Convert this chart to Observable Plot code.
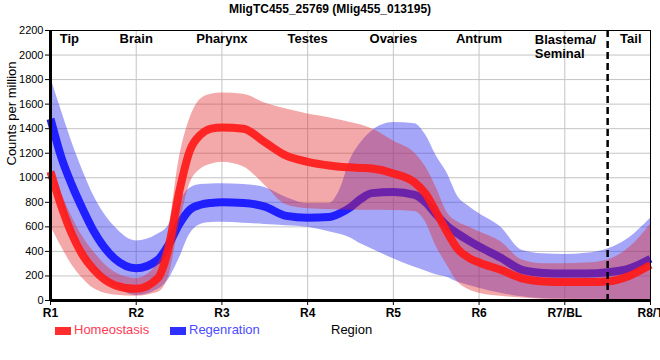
<!DOCTYPE html>
<html><head><meta charset="utf-8">
<script src="https://cdn.jsdelivr.net/npm/d3@7"></script>
<script src="https://cdn.jsdelivr.net/npm/@observablehq/plot@0.6"></script>
<style>
body{margin:0;background:#fff;font-family:"Liberation Sans",Arial,sans-serif;}
#wrap{position:relative;width:660px;height:360px;overflow:hidden;}
#title{position:absolute;top:1px;left:0;width:660px;text-align:center;font-weight:bold;font-size:12px;line-height:16px;color:#000}
#chart{position:absolute;top:22px;left:0}
.lg{position:absolute;top:322px;font-size:13px;line-height:16px;white-space:nowrap}
.sw{position:absolute;top:327px;width:16px;height:8px}
</style></head>
<body><div id="wrap">
<div id="title">MligTC455_25769 (Mlig455_013195)</div>
<div id="chart"></div>
<div class="sw" style="left:55px;background:#ff2d2d"></div>
<div class="lg" style="left:74px;color:#ff3a55">Homeostasis</div>
<div class="sw" style="left:170px;background:#2f2fff"></div>
<div class="lg" style="left:189px;color:#4b4bff">Regenration</div>
<div class="lg" style="left:331px;color:#000">Region</div>
</div>
<script>
const xs = [1, 1.125, 1.25, 1.375, 1.5, 1.75, 2, 2.25, 2.375, 2.5, 2.625, 2.75, 2.875, 3, 3.25, 3.5, 3.75, 4, 4.25, 4.375, 4.5, 4.625, 4.75, 5, 5.25, 5.375, 5.5, 5.625, 5.75, 5.875, 6, 6.25, 6.5, 6.75, 7, 7.25, 7.5, 7.75, 8];
const homeMean  = [1050, 770, 540, 370, 255, 125, 95, 180, 420, 880, 1220, 1350, 1400, 1410, 1400, 1290, 1180, 1130, 1100, 1090, 1085, 1080, 1075, 1035, 960, 870, 720, 560, 420, 350, 310, 250, 180, 155, 150, 150, 155, 200, 290];
const homeUpper = [1100, 880, 680, 520, 400, 230, 180, 300, 560, 1150, 1480, 1640, 1680, 1690, 1680, 1610, 1560, 1520, 1490, 1470, 1450, 1430, 1400, 1300, 1200, 1090, 920, 720, 640, 600, 560, 480, 330, 300, 300, 305, 330, 430, 620];
const homeLower = [611, 440, 290, 180, 100, 45, 35, 65, 190, 600, 950, 1070, 1110, 1127, 1090, 940, 780, 747, 740, 738, 735, 735, 735, 733, 725, 640, 440, 290, 150, 90, 60, 35, 20, 10, 8, 5, 5, 5, 5];
const regenMean  = [1480, 1170, 940, 745, 570, 340, 263, 330, 450, 620, 740, 780, 795, 800, 795, 765, 690, 675, 680, 710, 760, 830, 875, 885, 860, 800, 700, 610, 545, 490, 440, 350, 250, 225, 220, 220, 230, 260, 340];
const regenUpper = [1820, 1550, 1290, 1060, 860, 600, 485, 540, 610, 800, 915, 945, 950, 952, 945, 920, 840, 790, 790, 900, 1150, 1290, 1380, 1450, 1440, 1350, 1180, 1040, 850, 770, 709, 600, 410, 380, 375, 385, 420, 510, 670];
const regenLower = [1080, 780, 560, 400, 280, 120, 40, 90, 170, 340, 540, 620, 635, 638, 630, 620, 610, 597, 560, 540, 510, 460, 420, 340, 270, 240, 210, 190, 150, 125, 100, 60, 30, 15, 12, 10, 8, 5, 5];

const xTickPos = [1, 2, 3, 4, 5, 6, 7, 8];
const xTickLabels = ["R1", "R2", "R3", "R4", "R5", "R6", "R7/BL", "R8/T"];
const yTicks = [0, 200, 400, 600, 800, 1000, 1200, 1400, 1600, 1800, 2000, 2200];
const regionNames = ["Tip", "Brain", "Pharynx", "Testes", "Ovaries", "Antrum", "Tail"];
const regionX = [1.22, 2, 3, 4, 5, 6, 7.77];
const blastemaLabel = "Blastema/\nSeminal";
const blastemaX = 6.65;
const bodyTailBoundary = 7.5;

const rows = xs.map((x, i) => ({
  x,
  hm: homeMean[i], hu: homeUpper[i], hl: homeLower[i],
  rm: regenMean[i], ru: regenUpper[i], rl: regenLower[i]
}));
const regions = regionNames.map((n, i) => ({name: n, x: regionX[i]}));

const chart = Plot.plot({
  width: 660,
  height: 300,
  marginLeft: 50,
  marginRight: 10,
  marginTop: 8,
  marginBottom: 22,
  style: {fontFamily: "'Liberation Sans', Arial, sans-serif", background: "white", color: "black"},
  x: {domain: [1, 8]},
  y: {domain: [0, 2200]},
  marks: [
    Plot.gridX(xTickPos, {stroke: "#c4c4c4", strokeOpacity: 1, strokeWidth: 1}),
    Plot.gridY(yTicks, {stroke: "#c4c4c4", strokeOpacity: 1, strokeWidth: 1}),
    Plot.areaY(rows, {x: "x", y1: "rl", y2: "ru", fill: "#3535f0", fillOpacity: 0.44, curve: "monotone-x"}),
    Plot.line(rows, {x: "x", y: "rm", stroke: "#1f1fff", strokeWidth: 8, strokeLinecap: "butt", curve: "monotone-x"}),
    Plot.areaY(rows, {x: "x", y1: "hl", y2: "hu", fill: "#e02828", fillOpacity: 0.4, curve: "monotone-x"}),
    Plot.line(rows, {x: "x", y: "hm", stroke: "#ff1a1a", strokeWidth: 8, strokeOpacity: 0.92, strokeLinecap: "butt", curve: "monotone-x"}),
    Plot.ruleX([bodyTailBoundary], {stroke: "black", strokeWidth: 2.5, strokeDasharray: "7,4"}),
    Plot.frame({stroke: "black", strokeWidth: 1}),
    Plot.ruleX([1], {stroke: "black", strokeWidth: 3}),
    Plot.ruleY([0], {stroke: "black", strokeWidth: 3}),
    Plot.axisY({ticks: yTicks, tickFormat: (d) => String(d), tickSize: 5, tickPadding: 2, fontSize: 11, label: null}),
    Plot.axisX({ticks: xTickPos, tickFormat: (d) => xTickLabels[d - 1], tickSize: 5, tickPadding: 3, fontSize: 12, fontWeight: "bold", label: null}),
    Plot.text(regions, {x: "x", y: () => 2200, text: "name", lineAnchor: "top", dy: 3, fontSize: 13, fontWeight: "bold", fill: "black"}),
    Plot.text([blastemaLabel], {x: () => blastemaX, y: () => 2200, text: (d) => d, textAnchor: "start", lineAnchor: "top", dy: 3, lineHeight: 1.1, fontSize: 13, fontWeight: "bold", fill: "black"}),
    Plot.text(["Counts per million"], {frameAnchor: "left", dx: -39, rotate: -90, text: (d) => d, fontSize: 13, fill: "black"})
  ]
});
document.getElementById("chart").appendChild(chart);
</script>
</body></html>
